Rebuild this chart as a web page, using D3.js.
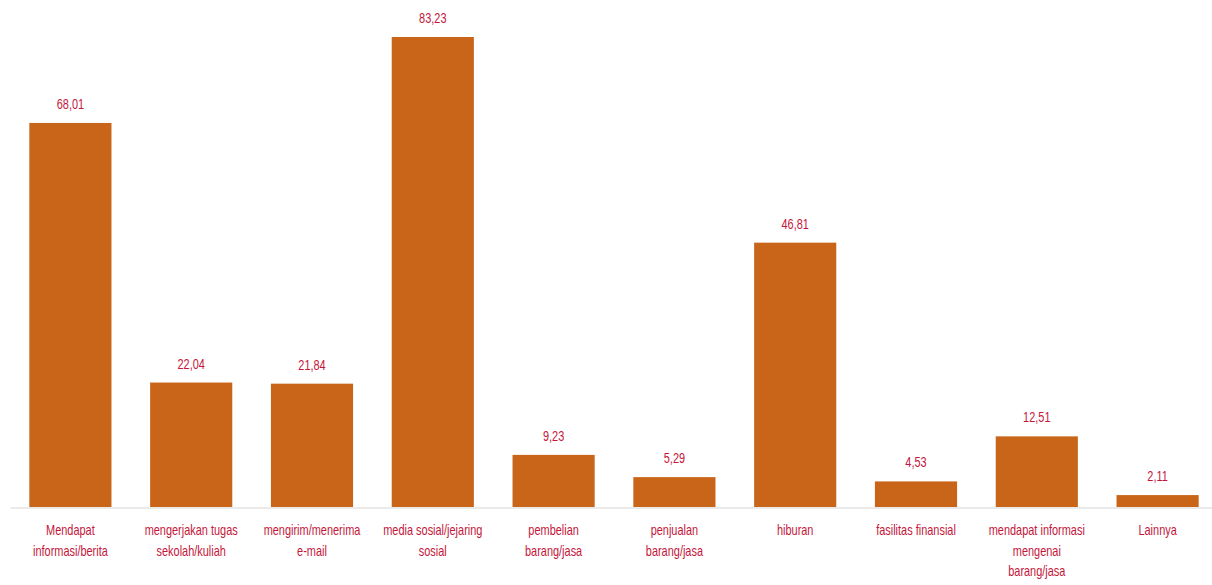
<!DOCTYPE html>
<html lang="id">
<head>
    <meta charset="UTF-8">
    <title>Tujuan penggunaan internet</title>
    <script src="https://cdn.jsdelivr.net/npm/d3@7.8.5/dist/d3.min.js"></script>
    <style>
        * { margin: 0; padding: 0; box-sizing: border-box; }
        body { background: #fff; width: 1212px; height: 585px; overflow: hidden; }
        .label { font-family: 'Liberation Sans', 'DejaVu Sans', sans-serif; fill: #c4163a; }
    </style>
</head>
<body>
    <div id="chart"></div>
    <script>
        // kategori (baris dipisah dengan "|")
        const categories = [
            "Mendapat|informasi/berita",
            "mengerjakan tugas|sekolah/kuliah",
            "mengirim/menerima|e-mail",
            "media sosial/jejaring|sosial",
            "pembelian|barang/jasa",
            "penjualan|barang/jasa",
            "hiburan",
            "fasilitas finansial",
            "mendapat informasi|mengenai|barang/jasa",
            "Lainnya"
        ];
        const values = [68.01, 22.04, 21.84, 83.23, 9.23, 5.29, 46.81, 4.53, 12.51, 2.11];

        const width = 1212, height = 585;
        const baseY = 507;
        const squeeze = 0.73; // huruf dibuat sempit seperti font condensed

        const svg = d3.select('#chart').append('svg')
            .attr('width', width)
            .attr('height', height);

        const x = d3.scaleBand()
            .domain(categories)
            .range([10, 1218])
            .paddingInner(0.32)
            .paddingOuter(0.16);

        const y = d3.scaleLinear()
            .domain([0, 83.23])
            .range([baseY, 37]);

        const fmt = v => d3.format('.2f')(v).replace('.', ',');

        // batang
        svg.selectAll('.bar')
            .data(values)
            .enter()
            .append('rect')
            .attr('class', 'bar')
            .attr('x', (d, i) => x(categories[i]))
            .attr('y', d => y(d))
            .attr('width', x.bandwidth())
            .attr('height', d => baseY - y(d))
            .attr('fill', '#c96519');

        // sumbu bawah
        const axis = svg.append('g')
            .attr('transform', `translate(0,${baseY + 0.5})`)
            .call(d3.axisBottom(x).tickSize(0).tickPadding(0).tickSizeOuter(0));

        axis.select('.domain')
            .attr('stroke', '#d6d6d6')
            .attr('stroke-width', 1.2);

        axis.selectAll('.tick text').each(function(d) {
            const t = d3.select(this);
            t.text(null)
                .attr('class', 'label')
                .attr('y', 0)
                .attr('dy', null)
                .attr('transform', `scale(${squeeze},1)`)
                .style('font-size', '15px');
            d.split('|').forEach((line, i) => {
                t.append('tspan')
                    .attr('x', 0)
                    .attr('y', 28 + i * 20.5)
                    .text(line);
            });
        });
        axis.attr('font-family', null).attr('font-size', null);

        // nilai di atas batang
        svg.selectAll('.value')
            .data(values)
            .enter()
            .append('g')
            .attr('transform', (d, i) => `translate(${x(categories[i]) + x.bandwidth() / 2},${y(d) - 14})`)
            .append('text')
            .attr('class', 'label')
            .attr('text-anchor', 'middle')
            .attr('transform', `scale(${squeeze},1)`)
            .style('font-size', '15px')
            .text(d => fmt(d));
    </script>
</body>
</html>
